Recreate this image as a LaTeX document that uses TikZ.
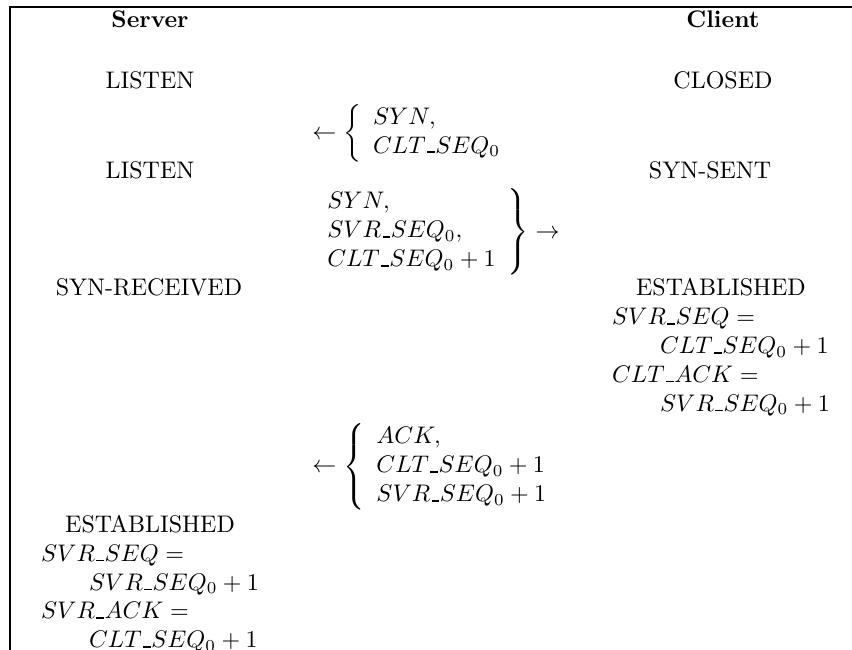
\documentclass[tikz,border=0pt]{standalone}
\usepackage{amsmath}
\usepackage{tikz}
\newcommand{\usc}{\kern.06em\rule{.32em}{.7pt}\kern.02em}

\begin{document}
\begin{tikzpicture}[
    head/.style={anchor=base, font=\bfseries, inner sep=0pt},
    state/.style={anchor=base, inner sep=0pt},
    msg/.style={anchor=west, inner sep=0pt},
    frame/.style={line width=1pt}
]
\useasboundingbox (0,0) rectangle (12.478,-9.519);
\draw[frame] (0.146,-9.519) -- (0.146,-0.103) -- (12.478,-0.103);
\node[head] (srv) at (2.197,-0.410) {Server};
\node[head] (clt) at (10.588,-0.410) {Client};
\node[state] (s1) at (2.197,-1.289) {LISTEN};
\node[state] (c1) at (10.588,-1.289) {CLOSED};
\node[msg] (m1) at (4.569,-1.948) {$\leftarrow\left\{\begin{array}{l} SYN,\\ CLT\usc SEQ_0 \end{array}\right.$};
\node[state] (s2) at (2.197,-2.607) {LISTEN};
\node[state] (c2) at (10.400,-2.607) {SYN-SENT};
\node[msg] (m2) at (4.569,-3.398) {$\left.\begin{array}{l} SYN,\\ SVR\usc SEQ_0,\\ CLT\usc SEQ_0+1 \end{array}\right\}\rightarrow$};
\node[state] (s3) at (2.182,-4.335) {SYN-RECEIVED};
\node[state] (c3) at (10.559,-4.335) {\begin{tabular}[t]{@{}l@{}}
    \multicolumn{1}{@{}c@{}}{ESTABLISHED}\\
    $SVR\usc SEQ =$\\
    \qquad$CLT\usc SEQ_0+1$\\
    $CLT\usc ACK =$\\
    \qquad$SVR\usc SEQ_0+1$
  \end{tabular}};
\node[msg] (m3) at (4.569,-6.839) {$\leftarrow\left\{\begin{array}{l} ACK,\\ CLT\usc SEQ_0+1\\ SVR\usc SEQ_0+1 \end{array}\right.$};
\node[state] (s4) at (2.197,-7.800) {\begin{tabular}[t]{@{}l@{}}
    \multicolumn{1}{@{}c@{}}{ESTABLISHED}\\
    $SVR\usc SEQ =$\\
    \qquad$SVR\usc SEQ_0+1$\\
    $SVR\usc ACK =$\\
    \qquad$CLT\usc SEQ_0+1$
  \end{tabular}};
\end{tikzpicture}
\end{document}
